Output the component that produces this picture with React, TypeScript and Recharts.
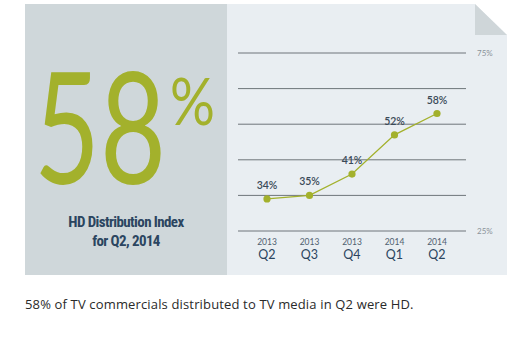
import { LineChart, Line, XAxis, YAxis, CartesianGrid, LabelList } from "recharts";

const years = ["2013", "2013", "2013", "2014", "2014"];
const quarters = ["Q2", "Q3", "Q4", "Q1", "Q2"];
const hdIndex = [34, 35, 41, 52, 58];
const yTicks = [25, 35, 45, 55, 65, 75];

const data = quarters.map((q, i) => ({
  key: `${years[i]} ${q}`,
  year: years[i],
  quarter: q,
  value: hdIndex[i],
}));

const GREEN = "#a3b12c";
const NAVY = "#2b4560";

function QuarterTick(props: any) {
  const { x, y, payload, index } = props;
  return (
    <g>
      <text x={x} y={y + 6} textAnchor="middle" fontSize={8.5} fill="#4f6070" fontFamily="Lato, sans-serif">
        {years[index] ?? payload.value.split(" ")[0]}
      </text>
      <text x={x} y={y + 20} textAnchor="middle" fontSize={12.5} fill={NAVY} fontFamily="Lato, sans-serif">
        {quarters[index] ?? payload.value.split(" ")[1]}
      </text>
    </g>
  );
}

function PctTick(props: any) {
  const { x, y, payload } = props;
  const show = payload.value === 25 || payload.value === 75;
  if (!show) return null;
  return (
    <text x={x + 3} y={y + 3} fontSize={8} fill="#8a9299" fontFamily="Lato, sans-serif">
      {payload.value}%
    </text>
  );
}

export default function App() {
  return (
    <div
      style={{
        position: "absolute",
        left: 0,
        top: 0,
        width: 520,
        height: 351,
        background: "#fff",
        fontFamily: "Lato, sans-serif",
      }}
    >
      {/* left panel */}
      <div
        style={{
          position: "absolute",
          left: 25,
          top: 4,
          width: 202,
          height: 271,
          background: "#cfd7da",
        }}
      >
        <div
          style={{
            position: "absolute",
            left: 9,
            top: 42,
            fontSize: 156,
            fontWeight: 400,
            color: GREEN,
            lineHeight: "156px",
            height: 156,
            fontFamily: "Lato, sans-serif",
            transform: "scaleX(0.73)",
            transformOrigin: "left top",
            whiteSpace: "nowrap",
          }}
        >
          58
        </div>
        <div
          style={{
            position: "absolute",
            left: 145,
            top: 63,
            fontSize: 66,
            fontWeight: 400,
            color: GREEN,
            lineHeight: "66px",
            height: 66,
            fontFamily: "Lato, sans-serif",
            transform: "scaleX(0.85)",
            transformOrigin: "left top",
          }}
        >
          %
        </div>
        <div
          style={{
            position: "absolute",
            left: 0,
            width: 202,
            top: 209,
            textAlign: "center",
            fontSize: 15,
            lineHeight: "19px",
            fontWeight: 700,
            color: NAVY,
            fontFamily: "'Roboto Condensed', 'DejaVu Sans Condensed', Roboto, sans-serif",
            letterSpacing: -0.6,
          }}
        >
          HD Distribution Index
          <br />
          for Q2, 2014
        </div>
      </div>

      {/* right panel */}
      <div
        style={{
          position: "absolute",
          left: 227,
          top: 4,
          width: 280,
          height: 271,
          background: "#e9eef2",
        }}
      />
      <svg style={{ position: "absolute", left: 475, top: 4 }} width={32} height={32}>
        <polygon points="0,0 32,0 32,31" fill="#ffffff" />
        <polygon points="0,0 0,31 32,31" fill="#cfd6d9" />
      </svg>

      <div style={{ position: "absolute", left: 230, top: 0 }}>
        <LineChart
          width={290}
          height={275}
          data={data}
          margin={{ top: 53, right: 0, bottom: 0, left: 8 }}
        >
          <CartesianGrid horizontal vertical={false} stroke="#6e757a" strokeWidth={1} />
          <XAxis
            dataKey="key"
            height={44}
            axisLine={false}
            tickLine={false}
            padding={{ left: 29, right: 29 }}
            interval={0}
            tick={<QuarterTick />}
          />
          <YAxis
            orientation="right"
            width={54}
            domain={[25, 75]}
            ticks={yTicks}
            axisLine={false}
            tickLine={false}
            tick={<PctTick />}
          />
          <Line
            type="linear"
            dataKey="value"
            stroke={GREEN}
            strokeWidth={1.3}
            dot={{ r: 3.6, fill: GREEN, stroke: GREEN, strokeWidth: 0 }}
            isAnimationActive={false}
          >
            <LabelList
              dataKey="value"
              position="top"
              offset={10}
              formatter={(v: any) => `${v}%`}
              style={{ fontSize: 10.5, fill: "#3a4a58", fontWeight: 600, fontFamily: "Lato, sans-serif" }}
            />
          </Line>
        </LineChart>
      </div>

      <div
        style={{
          position: "absolute",
          left: 25,
          top: 295,
          fontSize: 13,
          color: "#2a2a2a",
          fontFamily: "'Open Sans', sans-serif",
          letterSpacing: 0.15,
          whiteSpace: "nowrap",
        }}
      >
        58% of TV commercials distributed to TV media in Q2 were HD.
      </div>
    </div>
  );
}
